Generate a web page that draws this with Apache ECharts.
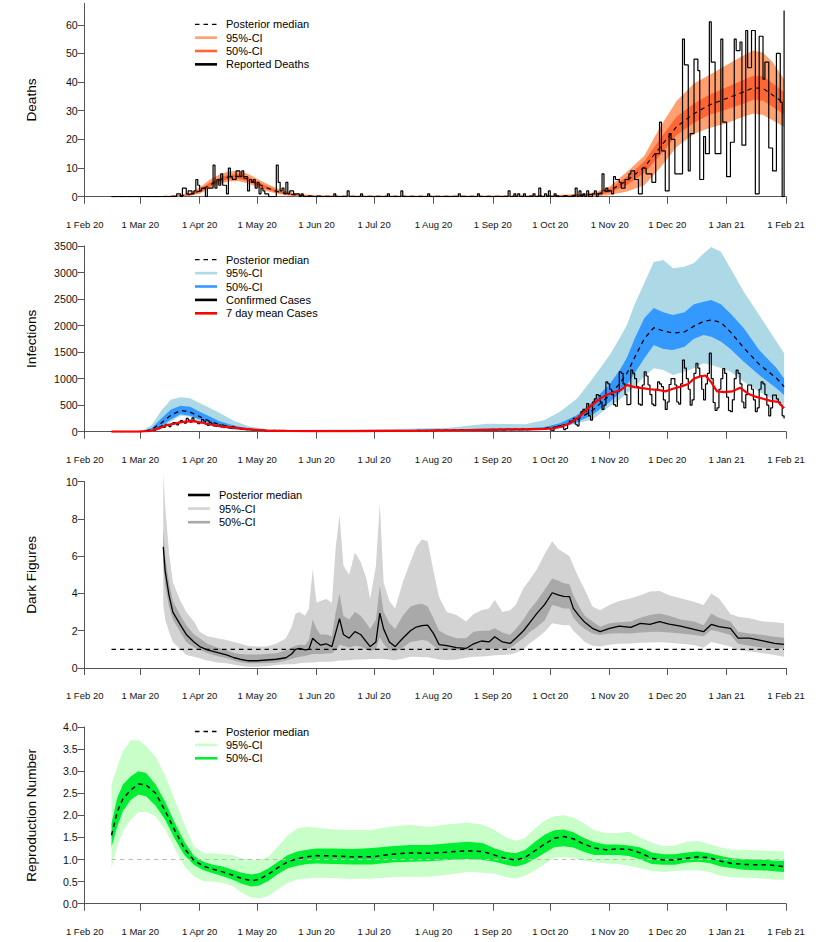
<!DOCTYPE html>
<html>
<head>
<meta charset="utf-8">
<script src="https://cdn.jsdelivr.net/npm/echarts@6/dist/echarts.min.js"></script>
<style>
html,body{margin:0;padding:0;background:#fff;}
#chart{width:830px;height:942px;}
</style>
</head>
<body>
<div id="chart"></div>
<script>
// x axis: days since 1 Feb 2020
var tickDays = [0, 29, 60, 90, 121, 151, 182, 213, 243, 274, 304, 335, 366];
var tickLabels = ['1 Feb 20', '1 Mar 20', '1 Apr 20', '1 May 20', '1 Jun 20', '1 Jul 20', '1 Aug 20',
                  '1 Sep 20', '1 Oct 20', '1 Nov 20', '1 Dec 20', '1 Jan 21', '1 Feb 21'];

var deathTicks = [0, 10, 20, 30, 40, 50, 60];
var infTicks = [0, 500, 1000, 1500, 2000, 2500, 3000, 3500];
var dfTicks = [0, 2, 4, 6, 8, 10];
var rTicks = [0, 0.5, 1, 1.5, 2, 2.5, 3, 3.5, 4];

// ---- panel 1: deaths ----
var deathStart = 14;
var deaths = [
  0,0,0,0,0,0,0,0,0,0, 0,0,0,0,0,0,0,0,0,0, 0,0,0,0,0,0,0,0,0,0, 0,0,0,0,
  1,1,0,3,3,1,2,2,1,2,
  6,4,2,3,3,0,3,3,3,11,
  3,6,4,8,4,4,1,10,7,6,
  6,9,9,7,9,7,7,2,6,5,
  6,3,5,1,3,2,1,1,0,0,
  0,0,11,5,2,3,1,5,1,2,
  2,1,1,1,0,1,0,0,0,0,
  0,0,0,0,0,0,0,0,0,0,
  0,0,1,0,0,0,0,0,0,2,
  0,0,0,0,0,0,1,0,0,0,
  0,0,0,0,0,0,0,0,0,0,
  1,0,0,0,0,0,0,2,0,0,
  0,0,0,0,0,0,0,0,0,0,
  0,1,0,0,0,0,0,0,0,0,
  0,0,0,0,0,0,0,1,0,0,
  0,0,0,0,0,0,0,1,0,0,
  0,0,0,0,0,0,0,0,0,0,
  0,0,0,2,0,0,1,0,1,0,
  0,1,0,0,0,0,1,0,0,3,
  0,0,1,0,2,0,0,1,0,0,
  0,0,0,0,0,0,0,0,3,0,
  2,0,1,0,2,0,0,1,2,0,
  1,1,8,2,3,2,2,1,7,6,
  6,5,3,3,6,6,8,9,9,6,
  6,1,1,10,10,8,8,8,5,5,
  15,15,26,16,16,2,2,22,20,20,
  8,8,8,8,55,46,46,9,22,22,
  48,48,44,6,6,21,15,15,61,47,
  47,15,15,15,55,26,26,7,7,19,
  19,55,51,51,54,18,18,58,45,45,
  58,58,1,1,56,56,41,47,47,17,
  17,9,9,50,50,33,0,65
];
var deathBandDays = [14,40,50,55,60,65,70,75,80,85,90,95,100,105,110,115,120,135,160,190,215,240,250,260,267,274,283,292,300,309,318,326,335,344,349,354,359,365];
var deathMed  = [0,0.05,0.3,0.8,2,4,5.8,6.9,7.1,6.2,4.6,3.1,1.9,1.1,0.6,0.35,0.2,0.15,0.15,0.15,0.15,0.2,0.35,0.55,0.9,2.1,5.6,10.3,17,24.5,29,32,34.3,36.6,38,37.8,35.5,32.6];
var death95Lo = [0,0,0.05,0.3,1,2.8,4.3,5.3,5.5,4.7,3.3,2,1.1,0.5,0.2,0.1,0.05,0,0,0,0,0,0.05,0.1,0.2,0.6,1.8,4,9.8,17.4,22,24,25.6,28,29,28.5,26.7,24.4];
var death95Hi = [0,0.15,0.6,1.5,3.2,5.8,7.7,8.8,9,8,6.3,4.5,3,1.9,1.2,0.8,0.5,0.4,0.4,0.4,0.45,0.5,0.7,1,1.6,3.6,8.7,14.2,24,33.5,39.5,42.5,46,49.4,51,50.2,47,41];
var death50Lo = [0,0,0.15,0.5,1.5,3.3,5,6.1,6.3,5.4,3.9,2.5,1.5,0.8,0.4,0.2,0.1,0.05,0.05,0.05,0.05,0.1,0.2,0.3,0.55,1.4,4.2,8.3,14.2,21.5,25.8,28.6,30.4,32.5,33.8,33.5,31.4,28.7];
var death50Hi = [0,0.1,0.45,1.1,2.5,4.8,6.6,7.7,7.9,7,5.3,3.7,2.4,1.4,0.8,0.5,0.3,0.25,0.25,0.25,0.25,0.3,0.5,0.75,1.2,2.8,7,12.3,20,28,32.5,35.6,38.2,40.8,42.2,42,39.6,36.5];

// ---- panel 2: infections ----
var caseStart = 14;
var cases = [
  0,0,0,0,0,0,0,0,0,0,0,1,0,0,2,3,
  5,4,8,12,20,30,25,45,70,90,
  110,80,140,120,95,150,170,160,130,180,
  210,190,160,250,220,180,260,200,190,150,
  170,230,200,140,120,180,150,110,100,120,
  130,90,80,110,90,70,60,100,80,60,
  70,55,50,60,40,45,50,35,30,40,
  25,30,28,20,22,18,20,15,25,18,
  15,12,20,14,10,18,12,10,14,12,
  10,8,12,9,11,10,8,12,9,10,11,
  10,12,8,15,11,9,14,10,8,12,
  9,11,13,8,10,12,9,14,10,11,
  12,10,15,9,11,13,16,12,10,14,
  15,12,18,14,11,16,13,17,15,12,
  14,18,20,15,12,19,22,16,14,18,
  20,23,17,15,21,25,19,16,22,24,
  20,18,26,28,22,19,27,30,24,20,
  28,32,26,22,30,35,28,24,33,36,
  30,26,35,40,33,28,38,42,35,30,
  40,45,38,33,42,48,40,35,45,50,
  42,36,46,52,44,38,48,55,46,40,
  50,56,48,42,52,58,50,45,55,
  50,70,60,30,25,80,90,110,120,90,
  40,60,150,200,190,250,140,110,300,380,
  420,380,530,300,220,560,620,700,680,560,
  420,500,940,900,800,700,510,480,760,1130,
  1100,900,700,510,520,1160,1100,1000,850,520,
  500,880,1130,1050,880,700,520,490,800,940,
  900,850,600,420,560,890,1000,1000,880,560,
  520,900,1350,1200,1000,800,500,600,1100,1290,
  1200,1050,800,600,900,1100,1480,1000,550,400,
  450,800,1000,1190,1100,650,400,380,600,1000,
  1160,1100,900,560,450,700,880,880,800,600,
  380,450,800,940,900,700,500,300,450,690,
  690,620,560,500,300,250
];
var caseMeanDays = [14,28,34,39,43,47,51,56,60,65,70,75,80,86,95,105,120,140,160,180,200,215,230,240,245,248,253,258,263,268,272,276,280,283,287,291,295,299,303,307,311,315,318,321,324,327,330,334,338,342,346,350,354,358,362,365];
var caseMean = [0,2,13,63,126,150,185,200,178,140,108,85,66,45,22,15,12,10,15,20,30,40,45,55,65,90,155,280,450,600,690,740,790,880,840,820,800,790,760,810,850,900,1000,1040,1060,930,760,745,760,830,720,660,620,580,560,440];
var infDays = [14,25,30,35,40,45,50,55,60,65,70,78,86,95,110,130,160,190,210,230,240,248,257,265,274,279,283,287,292,297,302,307,313,318,323,327,332,337,344,352,361,365];
var infMed  = [0,0,5,40,165,310,400,370,285,200,140,72,44,22,15,15,20,25,35,40,60,100,230,400,690,900,1100,1400,1750,1960,1900,1860,1880,1990,2080,2105,2060,1880,1580,1270,1010,850];
var inf95Lo = [0,0,0,5,63,189,300,283,189,120,80,31,15,8,5,5,5,8,12,15,30,70,160,230,480,600,720,850,1037,1194,1163,1068,1130,1194,1288,1257,1200,1131,943,754,566,503];
var inf95Hi = [0,2,20,126,400,600,650,630,540,450,360,200,100,45,35,40,50,75,150,140,220,377,628,1000,1445,1750,2011,2400,2800,3200,3236,3080,3110,3180,3360,3480,3390,3080,2640,2200,1700,1480];
var inf50Lo = [0,0,2,20,110,230,330,300,232,160,100,50,30,15,10,10,12,15,20,25,40,80,180,320,560,720,880,1100,1382,1634,1560,1539,1600,1750,1822,1791,1700,1560,1320,1068,817,691];
var inf50Hi = [0,1,10,70,250,420,490,470,377,290,200,110,60,30,22,22,30,40,60,65,90,157,314,566,900,1150,1400,1750,2137,2330,2250,2200,2250,2400,2450,2482,2400,2230,1950,1539,1200,1005];

// ---- panel 3: dark figures ----
var dfDays = [41,42,44,46,50,53,57,60,64,69,74,78,81,85,90,95,100,105,108,110,112,115,117,119,121,123,126,129,131,133,135,138,141,144,147,149,152,154,156,159,162,166,170,173,176,179,182,185,189,194,199,203,207,211,214,218,222,225,229,232,236,240,244,247,250,253,255,258,261,265,269,274,279,285,290,295,300,305,311,318,323,327,331,337,341,347,354,360,365];
var dfMed  = [6.5,5.2,3.9,3.0,2.3,1.8,1.4,1.15,0.97,0.84,0.7,0.55,0.47,0.39,0.39,0.43,0.47,0.55,0.75,1.0,1.05,0.97,1.0,1.6,1.4,1.23,1.3,1.15,1.9,2.65,1.8,1.6,1.95,1.8,1.4,1.15,1.4,2.95,2.1,1.4,1.15,1.6,2.0,2.2,2.27,2.3,1.86,1.25,1.2,1.09,1.05,1.3,1.45,1.4,1.68,1.4,1.32,1.6,2.0,2.4,2.93,3.4,4.04,3.92,3.85,3.83,3.2,2.8,2.45,2.13,1.95,2.13,2.25,2.18,2.4,2.34,2.49,2.36,2.25,2.07,1.95,2.34,2.22,2.13,1.6,1.6,1.45,1.32,1.27];
var df95Lo = [3.4,2.6,1.95,1.4,1.0,0.7,0.6,0.52,0.4,0.3,0.25,0.18,0.12,0.07,0.07,0.1,0.16,0.2,0.2,0.22,0.25,0.28,0.3,0.3,0.32,0.33,0.34,0.34,0.36,0.4,0.4,0.42,0.45,0.45,0.47,0.48,0.48,0.5,0.48,0.45,0.43,0.5,0.6,0.6,0.58,0.58,0.52,0.45,0.43,0.45,0.55,0.6,0.62,0.65,0.68,0.7,0.73,0.8,1.0,1.3,1.6,1.95,2.4,2.35,2.3,2.3,2.0,1.7,1.4,1.2,1.15,1.25,1.3,1.32,1.35,1.37,1.38,1.35,1.3,1.23,1.09,1.4,1.3,1.15,0.97,0.88,0.79,0.7,0.6];
var df95Hi = [10.45,8.7,6.2,4.6,3.6,3.0,2.5,1.95,1.7,1.6,1.5,1.4,1.32,1.2,1.15,1.15,1.3,1.6,2.2,2.9,3.0,2.8,3.2,5.3,3.5,3.6,3.7,3.5,6.5,8.2,5.5,5.0,6.2,5.7,4.8,3.7,5.5,8.8,4.6,3.6,3.2,4.6,5.7,6.5,6.9,6.8,5.2,3.8,3.0,2.84,2.5,2.9,3.1,3.2,3.65,3.0,3.1,3.4,4.3,4.7,5.3,6.1,6.8,6.4,6.2,6.0,5.5,4.8,4.2,3.3,3.1,3.4,3.6,3.74,3.9,4.1,4.13,3.9,3.74,3.56,3.38,4.0,3.74,2.9,2.75,2.67,2.49,2.45,2.4];
var df50Lo = [5.6,4.4,3.3,2.6,1.9,1.4,1.1,0.97,0.8,0.65,0.52,0.4,0.32,0.25,0.25,0.27,0.3,0.4,0.5,0.55,0.6,0.65,0.7,0.75,0.75,0.75,0.78,0.79,0.95,1.25,1.2,1.1,1.2,1.15,1.0,0.9,1.0,1.65,1.3,0.95,0.88,1.1,1.4,1.45,1.5,1.45,1.2,0.98,0.97,0.95,0.95,0.97,1.0,1.0,1.05,1.05,1.05,1.3,1.6,1.9,2.2,2.55,3.38,3.3,3.2,3.2,2.7,2.35,2.1,1.85,1.77,1.85,1.86,1.85,1.9,1.93,1.95,1.9,1.85,1.77,1.7,2.04,1.95,1.77,1.3,1.2,1.09,1.07,1.05];
var df50Hi = [7.5,6.0,4.6,3.6,2.8,2.3,1.8,1.6,1.3,1.1,0.97,0.8,0.75,0.73,0.73,0.75,0.79,0.95,1.1,1.2,1.25,1.23,1.5,2.6,2.1,1.8,1.8,1.7,3.0,4.0,2.8,2.6,3.0,2.8,2.4,2.1,2.6,4.4,3.0,2.4,2.1,2.8,3.3,3.4,3.45,3.3,2.67,2.0,1.77,1.6,1.6,1.95,2.0,2.0,2.13,1.9,1.77,2.1,2.6,3.1,3.6,4.2,4.8,4.7,4.55,4.5,3.9,3.3,2.8,2.5,2.22,2.4,2.45,2.49,2.7,2.85,2.93,2.8,2.6,2.49,2.3,2.93,2.7,2.49,1.95,1.85,1.77,1.68,1.63];
var dfRefDays = [14, 365];
var dfRef = [1, 1];

// ---- panel 4: reproduction number ----
var rDays = [14,17,20,24,28,32,37,42,47,52,57,62,67,72,77,82,87,91,96,101,106,111,116,121,130,140,150,160,170,180,190,200,208,214,220,225,230,235,240,245,250,255,260,266,272,278,284,290,296,302,308,314,320,326,332,338,344,350,356,361,365];
var rMed  = [1.55,2.08,2.38,2.57,2.71,2.69,2.5,2.1,1.66,1.25,0.98,0.85,0.78,0.72,0.65,0.57,0.52,0.55,0.67,0.82,0.95,1.02,1.06,1.09,1.08,1.06,1.06,1.12,1.15,1.14,1.17,1.2,1.18,1.1,1.02,0.99,1.05,1.2,1.35,1.48,1.52,1.47,1.36,1.26,1.22,1.24,1.23,1.15,1.03,0.99,0.99,1.03,1.06,1.04,0.96,0.91,0.89,0.88,0.88,0.86,0.84];
var r95Lo = [0.8,1.3,1.65,1.9,2.07,2.08,1.98,1.68,1.25,0.85,0.62,0.51,0.5,0.47,0.4,0.25,0.14,0.12,0.18,0.33,0.47,0.55,0.57,0.59,0.58,0.56,0.57,0.6,0.61,0.61,0.66,0.72,0.7,0.68,0.6,0.57,0.64,0.76,0.9,1.04,1.05,1.03,0.98,0.94,0.91,0.9,0.86,0.8,0.74,0.72,0.74,0.76,0.76,0.72,0.63,0.6,0.59,0.58,0.56,0.54,0.54];
var r95Hi = [2.69,3.1,3.45,3.7,3.7,3.57,3.32,2.9,2.35,1.8,1.3,1.14,1.14,1.12,1.1,1.03,0.99,0.99,1.07,1.3,1.55,1.7,1.74,1.72,1.68,1.66,1.67,1.75,1.78,1.74,1.8,1.84,1.78,1.67,1.5,1.42,1.5,1.7,1.88,1.98,2.0,1.95,1.83,1.66,1.6,1.6,1.63,1.5,1.38,1.3,1.32,1.4,1.42,1.35,1.27,1.22,1.22,1.21,1.2,1.19,1.18];
var r50Lo = [1.29,1.75,2.1,2.35,2.47,2.43,2.22,1.9,1.47,1.1,0.88,0.76,0.69,0.62,0.55,0.45,0.39,0.41,0.52,0.68,0.8,0.86,0.9,0.91,0.9,0.89,0.89,0.93,0.95,0.96,0.99,1.01,0.99,0.95,0.88,0.84,0.9,1.02,1.15,1.28,1.3,1.27,1.18,1.1,1.1,1.1,1.08,1.0,0.9,0.88,0.88,0.93,0.95,0.92,0.84,0.8,0.77,0.76,0.75,0.73,0.72];
var r50Hi = [1.82,2.4,2.7,2.88,3.0,2.96,2.7,2.3,1.83,1.4,1.08,0.95,0.88,0.84,0.77,0.7,0.66,0.69,0.8,0.95,1.1,1.18,1.22,1.25,1.25,1.24,1.26,1.3,1.33,1.33,1.37,1.4,1.37,1.25,1.17,1.14,1.22,1.4,1.56,1.66,1.68,1.62,1.5,1.39,1.34,1.34,1.32,1.27,1.16,1.12,1.12,1.16,1.18,1.14,1.08,1.03,1.01,1.0,0.99,0.97,0.97];
var rRefDays = [14, 365];
var rRef = [1, 1];

// ---- drawing ----
var FONT = '"Liberation Sans", Arial, Helvetica, sans-serif';
var chart = echarts.init(document.getElementById('chart'), null, {renderer: 'svg'});

function pairs(days, vals) {
  return days.map(function (d, i) { return [d, vals[i]]; });
}
function daily(start, vals) {
  return vals.map(function (v, i) { return [start + i, v]; });
}

// credible band as one filled polygon (upper edge, then lower edge back)
function band(idx, days, lo, hi, color) {
  return {
    type: 'custom', xAxisIndex: idx, yAxisIndex: idx, silent: true,
    data: days.map(function (d, i) { return [d, lo[i], hi[i]]; }),
    encode: {x: 0, y: [1, 2]},
    renderItem: function (params, api) {
      if (params.dataIndex !== 0) return null;
      var pts = [], i;
      for (i = 0; i < days.length; i++) pts.push(api.coord([days[i], hi[i]]));
      for (i = days.length - 1; i >= 0; i--) pts.push(api.coord([days[i], lo[i]]));
      return {type: 'polygon', shape: {points: pts}, style: {fill: color, stroke: null}};
    }
  };
}

function line(idx, data, color, width, dash, step) {
  return {
    type: 'line', xAxisIndex: idx, yAxisIndex: idx, data: data, symbol: 'none',
    step: step || false, silent: true,
    lineStyle: {color: color, width: width, type: dash ? [4.5, 4] : 'solid'}
  };
}

var panels = [
  {top: 3.3, height: 193.4, max: 67.5, ticks: deathTicks, name: 'Deaths', dec: 0},
  {top: 246, height: 185.7, max: 3500, ticks: infTicks, name: 'Infections', dec: 0},
  {top: 481.7, height: 186.3, max: 10, ticks: dfTicks, name: 'Dark Figures', dec: 0},
  {top: 727, height: 176.7, max: 4, ticks: rTicks, name: 'Reproduction Number', dec: 1}
];

var series = [
  band(0, deathBandDays, death95Lo, death95Hi, '#FFA070'),
  band(0, deathBandDays, death50Lo, death50Hi, '#FF6633'),
  line(0, daily(deathStart, deaths), '#000', 1.2, false, 'end'),
  line(0, pairs(deathBandDays, deathMed), '#000', 1.1, true),

  band(1, infDays, inf95Lo, inf95Hi, '#ADD8E6'),
  band(1, infDays, inf50Lo, inf50Hi, '#3399FF'),
  line(1, pairs(infDays, infMed), '#000', 1.3, true),
  line(1, daily(caseStart, cases), '#000', 1.2, false, 'end'),
  line(1, pairs(caseMeanDays, caseMean), '#FF0000', 2.2, false),

  band(2, dfDays, df95Lo, df95Hi, '#D3D3D3'),
  band(2, dfDays, df50Lo, df50Hi, '#A9A9A9'),
  line(2, pairs(dfDays, dfMed), '#000', 1.3, false),
  line(2, pairs(dfRefDays, dfRef), '#000', 1.2, true),

  band(3, rDays, r95Lo, r95Hi, '#C8FFC8'),
  band(3, rDays, r50Lo, r50Hi, '#00EE33'),
  line(3, pairs(rRefDays, rRef), '#BBBBBB', 1.1, true),
  line(3, pairs(rDays, rMed), '#000', 1.5, true)
];

function legend(x1, x2, xt, y0, step, items) {
  var out = [];
  items.forEach(function (it, i) {
    var y = y0 + i * step;
    out.push({
      type: 'line', silent: true,
      shape: {x1: x1, y1: y, x2: x2, y2: y},
      style: {stroke: it[0], lineWidth: it[2] ? 1.3 : 2.6, lineDash: it[2] ? [4.5, 4] : null}
    });
    out.push({
      type: 'text', silent: true, x: xt, y: y,
      style: {text: it[1], fill: '#000', fontSize: 11, fontFamily: FONT, verticalAlign: 'middle', align: 'left'}
    });
  });
  return out;
}

var graphics = [].concat(
  legend(195, 217, 226, 24.3, 13.35, [
    ['#000', 'Posterior median', true], ['#FFA070', '95%-CI'], ['#FF6633', '50%-CI'], ['#000', 'Reported Deaths']]),
  legend(195, 217, 226, 259.7, 13.4, [
    ['#000', 'Posterior median', true], ['#ADD8E6', '95%-CI'], ['#3399FF', '50%-CI'],
    ['#000', 'Confirmed Cases'], ['#FF0000', '7 day mean Cases']]),
  legend(188, 210, 219, 495, 13.6, [
    ['#000', 'Posterior median'], ['#D3D3D3', '95%-CI'], ['#A9A9A9', '50%-CI']]),
  legend(195, 217, 226, 731.5, 13.4, [
    ['#000', 'Posterior median', true], ['#C8FFC8', '95%-CI'], ['#00EE33', '50%-CI']])
);

chart.setOption({
  animation: false,
  backgroundColor: '#fff',
  textStyle: {fontFamily: FONT},
  grid: panels.map(function (p) {
    return {left: 84.7, right: 44, top: p.top, height: p.height, containLabel: false, outerBoundsMode: 'none'};
  }),
  xAxis: panels.map(function (p, i) {
    return {
      gridIndex: i, type: 'value', min: 0, max: 366, offset: 7.5,
      axisLine: {show: true, lineStyle: {color: '#555', width: 1}},
      axisTick: {show: true, length: 7, customValues: tickDays, lineStyle: {color: '#555'}},
      axisLabel: {
        customValues: tickDays, fontSize: 9.5, color: '#111', margin: 15,
        formatter: function (v) { return tickLabels[tickDays.indexOf(v)]; }
      },
      splitLine: {show: false}
    };
  }),
  yAxis: panels.map(function (p, i) {
    return {
      gridIndex: i, type: 'value', min: 0, max: p.max,
      name: p.name, nameLocation: 'middle', nameGap: 46,
      nameTextStyle: {fontSize: 13.6, color: '#000', fontFamily: FONT},
      axisLine: {show: true, lineStyle: {color: '#555', width: 1}},
      axisTick: {show: true, length: 7, customValues: p.ticks, lineStyle: {color: '#555'}},
      axisLabel: {
        customValues: p.ticks, fontSize: 10.6, color: '#111', margin: 7,
        formatter: function (v) { return p.dec ? v.toFixed(1) : String(v); }
      },
      splitLine: {show: false}
    };
  }),
  series: series,
  graphic: graphics
});
</script>
</body>
</html>
